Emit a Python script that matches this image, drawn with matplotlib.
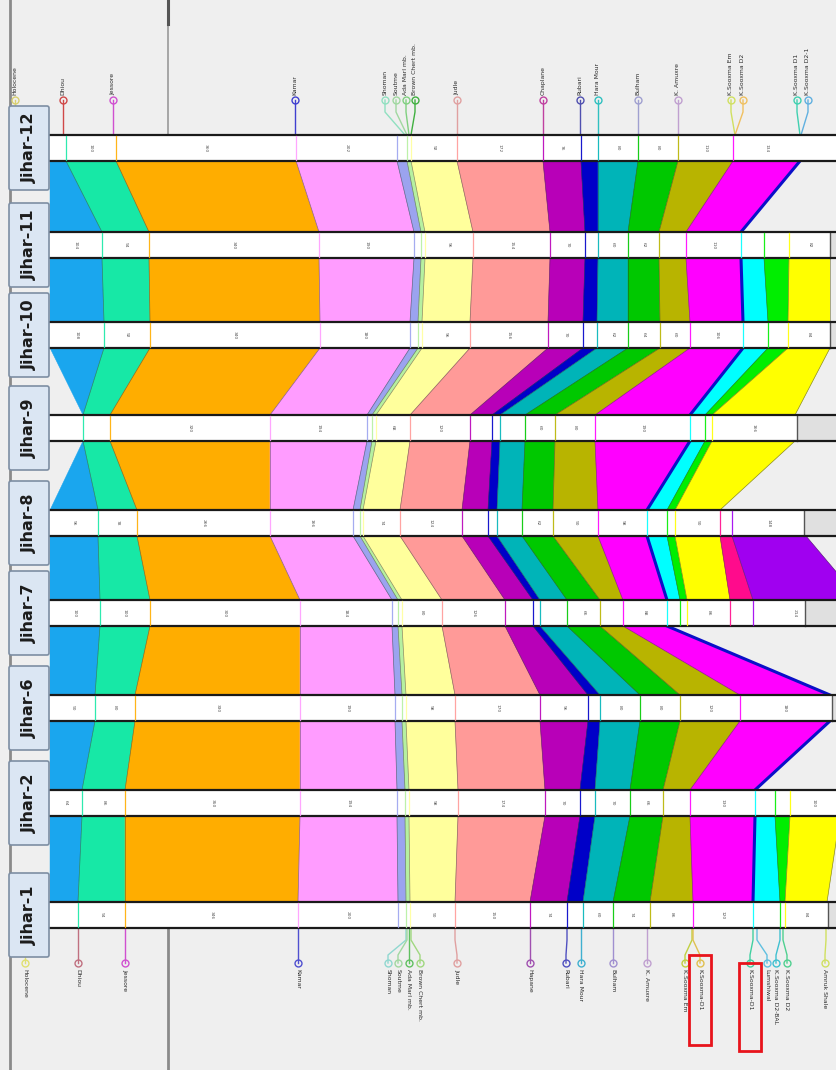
import numpy as np
import matplotlib.pyplot as plt
from matplotlib.patches import Polygon, Rectangle, FancyBboxPatch

plt.rcParams['font.family'] = ['DejaVu Sans']

# Wells in display order (top to bottom)
wells = ["Jihar-12", "Jihar-11", "Jihar-10", "Jihar-9", "Jihar-8",
         "Jihar-7", "Jihar-6", "Jihar-2", "Jihar-1"]

# Correlated units, shallow to deep
units = ["Dhiou", "Jessore", "Kamar", "Shoman", "Soutme", "Ada Marl mb.",
         "Judle", "Hapane", "Rubari", "Hara Mour", "Bulham", "K. Amuxre",
         "K.Sooxma Em", "K.Sooxma D1", "K.Sooxma D1-BAL", "K.Sooxma D2",
         "Amruk Shale", "Mughal Kot", "Pab"]
unit_colors = ["#1aa6ee", "#17e8a6", "#ffad00", "#ff9cff", "#9ba3ef",
               "#b6f0a0", "#ffff9c", "#ff9a98", "#b800b8", "#0000c8",
               "#00b4b8", "#00c800", "#b8b400", "#ff00ff", "#00ffff",
               "#00ee00", "#ffff00", "#ff0b8c", "#a000f0"]

nan = np.nan
# Top depths of each unit boundary per well (index k = top of unit k,
# last value = base of deepest correlated unit)
tops_j12 = [50, 66, 116, 296, 397, 407, 411, 457, 543, 581, 598, 638, 678, 733, 800]
tops_j11 = [50, 102, 149, 319, 414, 421, 425, 473, 550, 585, 598, 628, 659, 686, 741, 764, 789, 830]
tops_j10 = [50, 104, 150, 320, 410, 418, 422, 470, 548, 583, 597, 628, 660, 690, 743, 768, 788, 830]
tops_j9 = [83, 83, 110, 270, 367, 372, 376, 410, 470, 492, 500, 525, 555, 595, 690, 705, 712, 795]
tops_j8 = [50, 98, 137, 270, 353, 360, 363, 400, 462, 488, 497, 522, 553, 598, 647, 667, 675, 720, 732, 806]
tops_j7 = [50, 100, 150, 300, 392, 398, 402, 442, 505, 533, 540, 567, 600, 623, 667, 680, 687, 730, 753, 860]
tops_j6 = [50, 95, 135, 300, 395, 402, 406, 455, 540, 588, 600, 640, 680, 740, 830]
tops_j2 = [50, 82, 125, 300, 397, 405, 409, 458, 545, 580, 595, 630, 663, 690, 755, 775, 790, 840]
tops_j1 = [50, 78, 125, 298, 398, 406, 410, 455, 530, 567, 583, 613, 650, 693, 753, 780, 785, 827]
well_tops = [tops_j12, tops_j11, tops_j10, tops_j9, tops_j8,
             tops_j7, tops_j6, tops_j2, tops_j1]
# total depth of each well (logged section ends here)
well_td = [nan, 830, 830, 797, 804, 805, 832, nan, 828]

# Formation-top labels above the first well: name, pick depth, label position
top_names = ["Holocene", "Dhiou", "Jessore", "Kamar", "Shoman", "Soutme",
             "Ada Marl mb.", "Brown Chert mb.", "Judle", "Chaplane", "Rubari",
             "Hara Mour", "Bulham", "K. Amuxre", "K.Sooxma Em", "K.Sooxma D2",
             "K.Sooxma D1", "K.Sooxma D2-1"]
top_picks = [15, 63, 113, 295, 405, 407, 409, 411, 457, 543, 580, 598,
             638, 678, 735, 735, 800, 801]
top_label_x = [15, 63, 113, 295, 385, 396, 406, 415, 457, 543, 580, 598,
               638, 678, 731, 743, 797, 808]
top_colors = ["#d8d070", "#d04848", "#d050d0", "#4040d0", "#90e0c0", "#a0d8a0",
              "#80d080", "#40b040", "#e0a0a0", "#c040a0", "#5050b0", "#30c0c0",
              "#a0a0d0", "#c0a0d0", "#d0e060", "#f0c060", "#40d0b0", "#60b0e0"]

# Formation-top labels below the last well
bot_names = ["Holocene", "Dhiou", "Jessore", "Kamar", "Shoman", "Soutme",
             "Ada Marl mb.", "Brown Chert mb.", "Judle", "Hapane", "Rubari",
             "Hara Mour", "Bulham", "K. Amuxre", "K.Sooxma Em", "K.Sooxma-D1",
             "K.Sooxma-D1", "Lumshiwal", "K.Sooxma D2-BAL", "K.Sooxma D2",
             "Amruk Shale"]
bot_picks = [25, 78, 125, 298, 406, 407, 409, 411, 455, 530, 567, 581,
             613, 647, 692, 693, 753, 757, 780, 783, 826]
bot_label_x = [25, 78, 125, 298, 388, 398, 409, 420, 457, 530, 566, 581,
               613, 647, 685, 700, 750, 767, 776, 787, 825]
bot_colors = ["#e0e070", "#c07080", "#d050d0", "#5050d0", "#90d8d0", "#a0d8a0",
              "#60c060", "#a0d880", "#e0a0a0", "#a050b0", "#5050c0", "#40b0d0",
              "#a090d0", "#c0a0d0", "#c0d040", "#e0c050", "#40d0a0", "#60c0e0",
              "#40c0d0", "#50d090", "#d0e060"]
boxed_labels = [15, 16]

# Layout (figure units, y grows downward)
W, H = 837, 1070
row_top = [135, 232, 322, 415, 510, 600, 695, 790, 902]
strip_h = 26
strip_x0 = 50
bg = "#efefef"

fig = plt.figure(figsize=(W / 100, H / 100), dpi=100, facecolor=bg)
ax = fig.add_axes([0, 0, 1, 1])
ax.set_xlim(0, W)
ax.set_ylim(H, 0)
ax.axis("off")
ax.set_facecolor(bg)

# frame line on the left and depth reference lines
ax.plot([10, 10], [0, H], color="#8a8a8a", lw=2, zorder=1)
ax.plot([168, 168], [0, row_top[0]], color="#a0a0a0", lw=1.3, zorder=1)
ax.plot([168, 168], [0, 24], color="#555555", lw=2.2, zorder=1)
ax.plot([168, 168], [row_top[-1] + strip_h, H], color="#8a8a8a", lw=2, zorder=1)


def padded(v):
    return np.array(v + [nan] * (20 - len(v)), dtype=float)


# correlation fills between neighbouring wells
for i in range(len(wells) - 1):
    a = padded(well_tops[i])
    b = padded(well_tops[i + 1])
    y0 = row_top[i] + strip_h
    y1 = row_top[i + 1]
    for k, col in enumerate(unit_colors):
        vals = [a[k], a[k + 1], b[k], b[k + 1]]
        if np.any(np.isnan(vals)):
            continue
        poly = Polygon([(a[k], y0), (a[k + 1], y0), (b[k + 1], y1), (b[k], y1)],
                       closed=True, facecolor=col, edgecolor=col, lw=0.3, zorder=2)
        ax.add_patch(poly)
    # boundary lines
    for k in range(1, 20):
        if np.isnan(a[k]) or np.isnan(b[k]):
            continue
        if k == 14:
            ax.plot([a[k], b[k]], [y0, y1], color="#0a10c8", lw=2.2, zorder=3)
        else:
            ax.plot([a[k], b[k]], [y0, y1], color="#303030", lw=0.5, alpha=0.55, zorder=3)

# well strips
for i, name in enumerate(wells):
    y = row_top[i]
    t = [v for v in well_tops[i] if not np.isnan(v)]
    td = well_td[i]
    ax.add_patch(Rectangle((strip_x0, y), W - strip_x0, strip_h,
                           facecolor="white", edgecolor="none", zorder=4))
    if not np.isnan(td):
        ax.add_patch(Rectangle((td, y), W - td, strip_h,
                               facecolor="#e0e0e0", edgecolor="none", zorder=4))
        ax.plot([td, td], [y, y + strip_h], color="#555555", lw=1, zorder=5)
    ax.plot([strip_x0, W], [y, y], color="#1a1a1a", lw=1.6, zorder=5)
    ax.plot([strip_x0, W], [y + strip_h, y + strip_h], color="#1a1a1a", lw=1.6, zorder=5)
    for k, v in enumerate(t[1:-1], start=1):
        if v < W:
            ax.plot([v, v], [y + 1, y + strip_h - 1], color=unit_colors[min(k, 18)],
                    lw=0.9, alpha=0.9, zorder=5)
    # unit thickness annotations inside the strip
    for k in range(len(t) - 1):
        mid = (t[k] + min(t[k + 1], W)) / 2
        if t[k + 1] - t[k] > 28 and mid < W - 8:
            ax.text(mid, y + strip_h / 2, f"{int(t[k + 1] - t[k]) * 2}",
                    fontsize=3.2, color="#555555", rotation=270,
                    ha="center", va="center", zorder=6)
    # well name box
    yc = y + strip_h / 2
    ax.add_patch(FancyBboxPatch((9, yc - 42), 40, 84,
                                boxstyle="round,pad=0,rounding_size=2",
                                facecolor="#dbe6f3", edgecolor="#7d8ea3",
                                lw=1.2, zorder=7))
    ax.text(29, yc, name, rotation=90, ha="center", va="center",
            fontsize=11.5, fontweight="bold", color="#1c1c1c", zorder=8)

# labels above the first well
y_strip = row_top[0]
for name, d, lx, c in zip(top_names, top_picks, top_label_x, top_colors):
    ax.plot([d, lx, lx], [y_strip, 112, 100], color=c, lw=1, zorder=3)
    ax.plot(lx, 100, marker="o", ms=5, mfc="none", mec=c, mew=1, zorder=3)
    ax.text(lx, 95, name, rotation=90, ha="center", va="bottom",
            fontsize=4.4, color="#2a2a2a", zorder=3)

# labels below the last well
y_strip = row_top[-1] + strip_h
for j, (name, d, lx, c) in enumerate(zip(bot_names, bot_picks, bot_label_x, bot_colors)):
    ax.plot([d, d, lx, lx], [y_strip, 940, 955, 963], color=c, lw=1, zorder=3)
    ax.plot(lx, 963, marker="o", ms=5, mfc="none", mec=c, mew=1, zorder=3)
    ax.text(lx, 969, name, rotation=270, ha="center", va="top",
            fontsize=4.4, color="#2a2a2a", zorder=3)
    if j in boxed_labels:
        ax.add_patch(Rectangle((lx - 11, 955 + (j - 15) * 8), 22, 90 - (j - 15) * 2,
                               facecolor="none", edgecolor="#e8141c", lw=2, zorder=6))

fig.savefig("out.png", dpi=100, facecolor=bg)
